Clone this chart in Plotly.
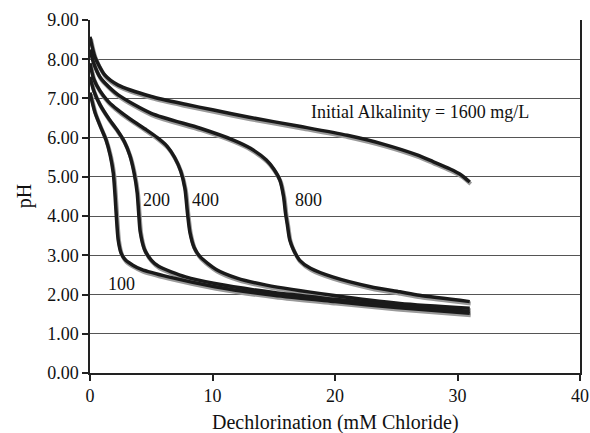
import plotly.graph_objects as go

# Data (x = mM chloride, y = pH)
x_1600 = [0, 0.4, 1.2, 2.3, 5, 7.8, 10, 13, 17.1, 21, 24, 26.7, 28, 29.4, 30.3, 31]
y_1600 = [8.57, 8.06, 7.6, 7.34, 7.05, 6.85, 6.71, 6.52, 6.29, 6.06, 5.83, 5.56, 5.39, 5.2, 5.05, 4.87]

x_800 = [0, 0.3, 0.8, 1.2, 2.3, 5, 9, 11.7, 13.1, 14.4, 15.0, 15.5, 15.8, 15.95, 16.1, 16.3, 16.6, 17.1, 18, 19.8, 22.9, 25.3, 26.9, 31]
y_800 = [8.25, 7.9, 7.55, 7.4, 7.09, 6.62, 6.24, 5.94, 5.73, 5.43, 5.2, 4.92, 4.5, 4.1, 3.8, 3.4, 3.15, 2.88, 2.67, 2.45, 2.2, 2.07, 1.98, 1.82]

x_400 = [0, 0.3, 0.8, 1.5, 2.3, 3.3, 4.5, 5.5, 6.3, 6.9, 7.4, 7.75, 7.95, 8.15, 8.5, 9.0, 10.3, 12, 14.4, 19.8, 25.3, 31]
y_400 = [7.9, 7.5, 7.2, 6.92, 6.7, 6.47, 6.22, 6.0, 5.78, 5.5, 5.15, 4.7, 4.1, 3.6, 3.2, 2.96, 2.64, 2.42, 2.24, 1.98, 1.77, 1.65]

x_200 = [0, 0.3, 0.8, 1.5, 2.2, 2.8, 3.25, 3.6, 3.85, 3.97, 4.1, 4.45, 5.0, 5.6, 7.8, 10.2, 15, 20, 25, 31]
y_200 = [7.55, 7.2, 6.85, 6.5, 6.2, 5.9, 5.55, 5.1, 4.6, 4.1, 3.6, 3.15, 2.88, 2.72, 2.45, 2.28, 2.05, 1.88, 1.72, 1.57]

x_100 = [0, 0.4, 0.9, 1.3, 1.65, 1.9, 2.05, 2.15, 2.3, 2.55, 2.9, 3.5, 4.2, 6.4, 10.2, 15, 20, 25, 31]
y_100 = [7.15, 6.65, 6.25, 5.95, 5.55, 5.1, 4.5, 4.0, 3.4, 3.05, 2.88, 2.75, 2.64, 2.45, 2.2, 1.98, 1.82, 1.67, 1.52]

series = [(x_1600, y_1600), (x_800, y_800), (x_400, y_400), (x_200, y_200), (x_100, y_100)]

label_text = ["Initial Alkalinity = 1600 mg/L", "800", "400", "200", "100"]
label_x = [26.9, 17.8, 9.4, 5.44, 2.59]
label_y = [6.66, 4.41, 4.41, 4.41, 2.28]

x_ticks = [0, 10, 20, 30, 40]
y_ticks = [0, 1, 2, 3, 4, 5, 6, 7, 8, 9]

x_title = "Dechlorination (mM Chloride)"
y_title = "pH"

font_family = "Liberation Serif, Times New Roman, serif"

fig = go.Figure()
shadow_dy = 0.05
for xs, ys in series:
    fig.add_trace(go.Scatter(x=[v + 0.08 for v in xs], y=[v - shadow_dy for v in ys], mode="lines",
                             line=dict(color="#9a9a9a", width=4, shape="spline", smoothing=0.7),
                             hoverinfo="skip", showlegend=False))
for xs, ys in series:
    fig.add_trace(go.Scatter(x=xs, y=ys, mode="lines",
                             line=dict(color="#1a1a1a", width=3.5, shape="spline", smoothing=0.7),
                             showlegend=False))

for t, lx, ly in zip(label_text, label_x, label_y):
    fig.add_annotation(x=lx, y=ly, text=t, showarrow=False,
                       font=dict(family=font_family, size=18, color="#111"))

# axis titles as paper-positioned text
fig.add_annotation(xref="paper", yref="paper", x=0.5, y=-0.139, text=x_title, showarrow=False,
                   xanchor="center", yanchor="middle", font=dict(family=font_family, size=20, color="#111"))
fig.add_annotation(xref="paper", yref="paper", x=-0.133, y=0.5, text=y_title, showarrow=False,
                   textangle=-90, xanchor="center", yanchor="middle",
                   font=dict(family=font_family, size=20, color="#111"))

fig.update_layout(
    width=590, height=433,
    margin=dict(l=90, r=10, t=20, b=60),
    paper_bgcolor="white", plot_bgcolor="white",
    font=dict(family=font_family, size=18, color="#111"),
)
fig.update_xaxes(range=[0, 40], tickvals=x_ticks, ticktext=[str(v) for v in x_ticks],
                 showgrid=False, zeroline=False, showline=True, linecolor="#222", linewidth=1.5,
                 ticks="outside", ticklen=6, tickcolor="#222", tickwidth=1.5, automargin=False,
                 tickfont=dict(size=18))
fig.update_yaxes(range=[0, 9], tickvals=y_ticks, ticktext=["%.2f" % v for v in y_ticks],
                 showgrid=True, gridcolor="#555", gridwidth=1, zeroline=False,
                 showline=True, linecolor="#222", linewidth=1.5, mirror=True,
                 ticks="outside", ticklen=6, tickcolor="#222", tickwidth=1.5, automargin=False,
                 tickfont=dict(size=18))

fig.write_html("out.html")
